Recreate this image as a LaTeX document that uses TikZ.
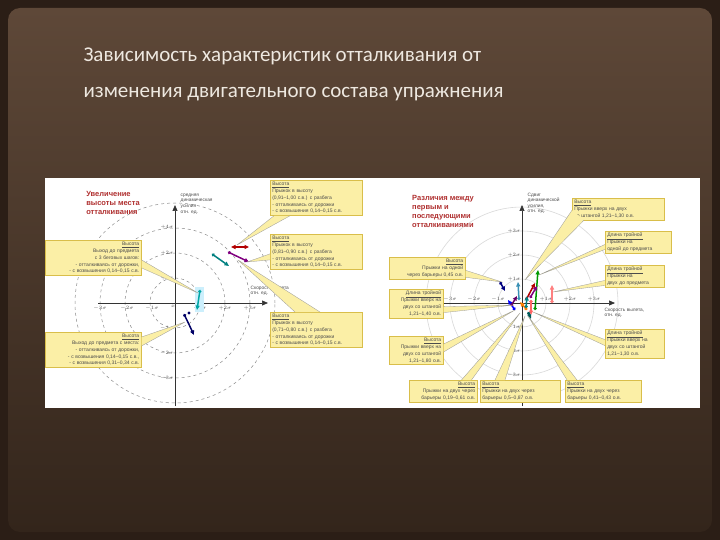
\documentclass[tikz,border=0pt]{standalone}
\usepackage{fontspec}
\setmainfont{Carlito}
\setsansfont{Liberation Sans}
\usetikzlibrary{arrows.meta,calc}
\definecolor{bgout}{HTML}{2B1E16}
\definecolor{bgtop}{HTML}{5E4838}
\definecolor{bgbot}{HTML}{33251B}
\definecolor{titlec}{HTML}{EEE8E0}
\definecolor{yel}{HTML}{FBEFA6}
\definecolor{yelb}{HTML}{D9BE4A}
\definecolor{redt}{HTML}{B03030}
\tikzset{
  cbox/.style={draw=yelb,fill=yel,line width=0.5pt,inner sep=2pt,font=\sffamily\fontsize{5}{6.8}\selectfont,text=black!70,align=#1},
  cbox/.default=left,
  wedge/.style={fill=yel,draw=black!40,line width=0.3pt},
  axis/.style={-{Triangle[length=6pt,width=5pt]},black!80,line width=0.7pt},
  ring/.style={dashed,black!45,line width=0.5pt},
  ringr/.style={black!15,line width=0.6pt},
  lbl/.style={font=\sffamily\fontsize{5.5}{6}\selectfont,text=black!70,inner sep=0.5pt},
  lblb/.style={font=\sffamily\fontsize{4.8}{5.6}\selectfont,text=black!70,inner sep=0.5pt},
  ttl/.style={font=\sffamily\bfseries\fontsize{7.5}{9}\selectfont,text=redt,align=left},
  vec/.style={{Circle[length=3pt]}-{Triangle[length=4.5pt,width=4pt]},line width=1.5pt}
}
\begin{document}
\begin{tikzpicture}[x=1pt,y=-1pt]
\useasboundingbox (0,0) rectangle (720,540);
\fill[bgout] (0,0) rectangle (720,540);
\shade[top color=bgtop,bottom color=bgbot,rounded corners=12pt] (8,8) rectangle (712,532);
\node[anchor=north west,text=titlec,font=\fontsize{21}{36}\selectfont,align=left] (title) at (80,44)
 {Зависимость характеристик отталкивания от\\изменения двигательного состава упражнения};
\fill[white] (45,178) rectangle (700,408);
% ---------- left diagram ----------
\coordinate (O1) at (175,303);
\begin{scope}
\clip (45,178) rectangle (372,408);
\foreach \r in {25,50,75,100} \draw[ring] (O1) circle[radius=\r pt];
\end{scope}
\draw[black!25,line width=0.5pt] (98,303) -- (262,303);
\draw[axis] (98,303) -- (268,303);
\draw[axis] (175,406) -- (175,205);
\node[lblb,align=left,anchor=north west] (ylab1) at (180,193) {средняя\\динамическая\\усилия\\отн. ед.};
\node[lblb,align=left,anchor=north west] (xlab1) at (250,285) {Скорость вылета\\отн. ед.};
\foreach \x/\t in {-75/$-3\sigma$,-48/$-2\sigma$,-23/$-1\sigma$,25/$+1\sigma$,50/$+2\sigma$,75/$+3\sigma$}
  \node[lbl,anchor=north] at ($(O1)+(\x,2)$) {\t};
\node[lbl,anchor=north] at (173,305) {$x$};
\foreach \y/\t in {-76/$+4\sigma$,-50/$+2\sigma$,-25/$+1\sigma$,25/$-1\sigma$,50/$-2\sigma$,75/$-3\sigma$}
  \node[lbl,anchor=east] at ($(O1)+(-1,\y)$) {\t};
\node[ttl] (t1) at (113,203) {Увеличение\\высоты места\\отталкивания};
% vectors
\fill[cyan!20] (195,287) rectangle (204,312);
\draw[{Triangle[length=4.5pt,width=4pt]}-{Triangle[length=4.5pt,width=4pt]},line width=1.5pt,red!70!black] (231,247) -- (249,247);
\draw[vec,violet] (228,252) -- (249,262);
\draw[vec,teal] (212,254) -- (229,266);
\draw[vec,teal!70!cyan] (200,290) -- (197,310);
\draw[vec,blue!40!black] (184,314) -- (194,335);
\fill[blue!40!black] (189,313) circle[radius=1.6pt];
\coordinate (p1) at (237,245);
\coordinate (p2) at (247,262);
\coordinate (p3) at (238,260);
\coordinate (p4) at (198,293);
\coordinate (p5) at (185,322);
\node[cbox=left,text width=88pt,anchor=north west] (b1) at (270,180)
 {\underline{Высота}\\Прыжок в высоту\\(0,91–1,00 с.в.) с разбега\\- отталкиваясь от дорожки\\- с возвышения 0,14–0,15 с.в.};
\node[cbox=left,text width=88pt,anchor=north west] (b2) at (270,234)
 {\underline{Высота}\\Прыжок в высоту\\(0,81–0,90 с.в.) с разбега\\- отталкиваясь от дорожки\\- с возвышения 0,14–0,15 с.в.};
\node[cbox=left,text width=88pt,anchor=north west] (b3) at (270,312)
 {\underline{Высота}\\Прыжок в высоту\\(0,71–0,80 с.в.) с разбега\\- отталкиваясь от дорожки\\- с возвышения 0,14–0,15 с.в.};
\node[cbox=right,text width=92pt,anchor=north west] (b4) at (45,240)
 {\underline{Высота}\\Выход до предмета\\с 3 беговых шагов:\\- отталкиваясь от дорожки,\\- с возвышения 0,14–0,15 с.в.};
\node[cbox=right,text width=92pt,anchor=north west] (b5) at (45,332)
 {\underline{Высота}\\Выход до предмета с места:\\- отталкиваясь от дорожки,\\- с возвышения 0,14–0,15 с.в.,\\- с возвышения 0,31–0,34 с.в.};
\fill[wedge] ($(b1.south west)+(4,0)$) -- (p1) -- ($(b1.south west)+(20,0)$);
\fill[wedge] ($(b2.west)+(0,2)$) -- (p2) -- ($(b2.west)+(0,8)$);
\fill[wedge] ($(b3.north west)+(25,0)$) -- (p3) -- ($(b3.north west)+(50,0)$);
\fill[wedge] ($(b4.east)+(0,2)$) -- (p4) -- ($(b4.east)+(0,10)$);
\fill[wedge] ($(b5.north east)+(0,5)$) -- (p5) -- ($(b5.north east)+(0,14)$);
% ---------- right diagram ----------
\coordinate (O2) at (522,303);
\begin{scope}
\clip (375,178) rectangle (700,408);
\foreach \r in {24,48,72,96} \draw[ringr] (O2) circle[radius=\r pt];
\end{scope}
\draw[axis] (412,303) -- (615,303);
\draw[axis] (522,406) -- (522,205);
\node[lblb,align=left,anchor=north west] (ylab2) at (527,192) {Сдвиг\\динамической\\усилия,\\отн. ед.};
\node[lblb,align=left,anchor=north west] (xlab2) at (604,307) {Скорость вылета,\\отн. ед.};
\foreach \x/\t in {-72/$-3\sigma$,-48/$-2\sigma$,-24/$-1\sigma$,24/$+1\sigma$,48/$+2\sigma$,72/$+3\sigma$}
  \node[lbl,anchor=south] at ($(O2)+(\x,-1)$) {\t};
\foreach \y/\t in {-72/$+3\sigma$,-48/$+2\sigma$,-24/$+1\sigma$,24/$-1\sigma$,48/$-2\sigma$,72/$-3\sigma$}
  \node[lbl,anchor=east] at ($(O2)+(-1,\y)$) {\t};
\node[ttl] (t2) at (443,211) {Различия между\\первым и\\последующими\\отталкиваниями};
\draw[vec,green!60!black] (535,310) -- (538,270);
\draw[vec,red!50] (552,303) -- (552,285);
\draw[vec,red!70!black] (526,300) -- (535,283);
\draw[vec,violet] (530,298) -- (537,286);
\draw[vec,cyan!70!black] (519,300) -- (518,282);
\draw[vec,blue!50!black] (500,282) -- (505,291);
\draw[vec,blue] (515,310) -- (508,300);
\draw[vec,orange] (527,310) -- (520,302);
\draw[vec,teal] (526,308) -- (527,296);
\draw[vec,violet!80!black] (511,306) -- (517,296);
\draw[vec,red!60] (531,300) -- (531,315);
\draw[vec,teal!70!black] (528,312) -- (531,319);
\coordinate (q1) at (525,280);
\coordinate (q2) at (539,275);
\coordinate (q3) at (553,292);
\coordinate (q4) at (533,312);
\coordinate (q5) at (502,282);
\coordinate (q6) at (514,305);
\coordinate (q7) at (515,310);
\coordinate (q8) at (520,313);
\coordinate (q9) at (525,316);
\coordinate (q10) at (528,316);
\node[cbox=left,text width=88pt,anchor=north west] (r1) at (572,198)
 {\underline{Высота}\\Прыжки вверх на двух\\со штангой 1,21–1,30 о.в.};
\node[cbox=left,text width=62pt,anchor=north west] (r2) at (605,231)
 {\underline{Длина тройной}\\Прыжки на\\одной до предмета};
\node[cbox=left,text width=55pt,anchor=north west] (r3) at (605,265)
 {\underline{Длина тройной}\\Прыжки на\\двух до предмета};
\node[cbox=left,text width=55pt,anchor=north west] (r4) at (605,329)
 {\underline{Длина тройной}\\Прыжки вверх на\\двух со штангой\\1,21–1,30 о.в.};
\node[cbox=right,text width=72pt,anchor=north west] (l1) at (389,257)
 {\underline{Высота}\\Прыжки на одной\\через барьеры 0,45 о.в.};
\node[cbox=right,text width=50pt,anchor=north west] (l2) at (389,289)
 {\underline{Длина тройной}\\Прыжки вверх на\\двух со штангой\\1,21–1,40 о.в.};
\node[cbox=right,text width=50pt,anchor=north west] (l3) at (389,336)
 {\underline{Высота}\\Прыжки вверх на\\двух со штангой\\1,21–1,80 о.в.};
\node[cbox=right,text width=64pt,anchor=north west] (d1) at (409,380)
 {\underline{Высота}\\Прыжки на двух через\\барьеры 0,19–0,61 о.в.};
\node[cbox=left,text width=76pt,anchor=north west] (d2) at (480,380)
 {\underline{Высота}\\Прыжки на двух через\\барьеры 0,5–0,87 о.в.};
\node[cbox=left,text width=72pt,anchor=north west] (d3) at (565,380)
 {\underline{Высота}\\Прыжки на двух через\\барьеры 0,41–0,43 о.в.};
\fill[wedge] ($(r1.south west)+(0,-10)$) -- (q1) -- ($(r1.south west)+(12,0)$);
\fill[wedge] ($(r2.west)+(0,2)$) -- (q2) -- ($(r2.west)+(0,7)$);
\fill[wedge] ($(r3.west)+(0,4)$) -- (q3) -- ($(r3.west)+(0,9)$);
\fill[wedge] ($(r4.west)+(0,-4)$) -- (q4) -- ($(r4.west)+(0,2)$);
\fill[wedge] ($(l1.east)+(0,2)$) -- (q5) -- ($(l1.east)+(0,9)$);
\fill[wedge] ($(l2.east)+(0,3)$) -- (q6) -- ($(l2.east)+(0,9)$);
\fill[wedge] ($(l3.north east)+(0,8)$) -- (q7) -- ($(l3.north east)+(0,16)$);
\fill[wedge] ($(d1.north east)+(-16,0)$) -- (q8) -- ($(d1.north east)+(-6,0)$);
\fill[wedge] ($(d2.north west)+(15,0)$) -- (q9) -- ($(d2.north west)+(25,0)$);
\fill[wedge] ($(d3.north west)+(2,0)$) -- (q10) -- ($(d3.north west)+(12,0)$);
\end{tikzpicture}
\end{document}
